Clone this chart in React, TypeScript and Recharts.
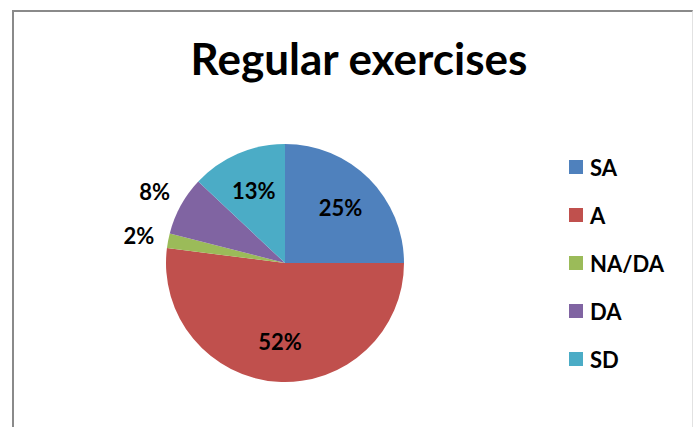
import { PieChart, Pie, Cell, PieLabelRenderProps } from 'recharts';

const categories = ['SA', 'A', 'NA/DA', 'DA', 'SD'];
const percents = [25, 52, 2, 8, 13];
const COLORS = ['#4F81BD', '#C0504D', '#9BBB59', '#8064A2', '#4BACC6'];

const data = categories.map((name, i) => ({ name, value: percents[i] }));

const FONT = 'Lato, "Open Sans", sans-serif';
const RADIAN = Math.PI / 180;

const renderLabel = ({ cx, cy, midAngle, outerRadius, percent }: PieLabelRenderProps) => {
  const r = typeof outerRadius === 'number' ? outerRadius : 0;
  const p = typeof percent === 'number' ? percent : 0;
  const x0 = Number(cx);
  const y0 = Number(cy);
  // small slices get their label outside, like excel does
  const dist = p < 0.1 ? r * 1.25 : r * 0.66;
  const a = midAngle ?? 0;
  const x = x0 + dist * Math.cos(-a * RADIAN);
  const y = y0 + dist * Math.sin(-a * RADIAN);
  return (
    <text x={x} y={y} fill="#000" textAnchor="middle" dominantBaseline="central"
      style={{ fontFamily: FONT, fontWeight: 700, fontSize: 22 }}>
      {`${Math.round(p * 100)}%`}
    </text>
  );
};

const App = () => {
  return (
    <div style={{ position: 'absolute', left: 0, top: 0, width: 694, height: 427, background: '#fff', overflow: 'hidden' }}>
      <div style={{
        position: 'absolute', left: 12, top: 10, width: 678, height: 440,
        borderTop: '2px solid #8a8a8a', borderLeft: '2px solid #8a8a8a', borderRight: '1px solid #e2e2e2',
      }} />
      <div style={{
        position: 'absolute', left: 0, top: 32, width: 718, textAlign: 'center',
        fontFamily: FONT, fontWeight: 700, fontSize: 44, color: '#000',
      }}>
        Regular exercises
      </div>
      <div style={{ position: 'absolute', left: 0, top: 0 }}>
        <PieChart width={560} height={427} margin={{ top: 0, right: 0, bottom: 0, left: 0 }}>
          <Pie
            data={data}
            dataKey="value"
            cx={285}
            cy={263}
            outerRadius={119}
            startAngle={90}
            endAngle={-270}
            stroke="none"
            labelLine={false}
            label={renderLabel}
            isAnimationActive={false}
          >
            {data.map((entry, index) => (
              <Cell key={`cell-${index}`} fill={COLORS[index % COLORS.length]} />
            ))}
          </Pie>
        </PieChart>
      </div>
      <ul style={{ position: 'absolute', left: 569, top: 143, margin: 0, padding: 0, listStyle: 'none' }}>
        {data.map((entry, index) => (
          <li key={index} style={{ display: 'flex', alignItems: 'center', height: 48 }}>
            <span style={{ width: 14, height: 14, background: COLORS[index], marginRight: 7 }}></span>
            <span style={{ fontFamily: FONT, fontWeight: 700, fontSize: 22, color: '#000' }}>{entry.name}</span>
          </li>
        ))}
      </ul>
    </div>
  );
};

export default App;
